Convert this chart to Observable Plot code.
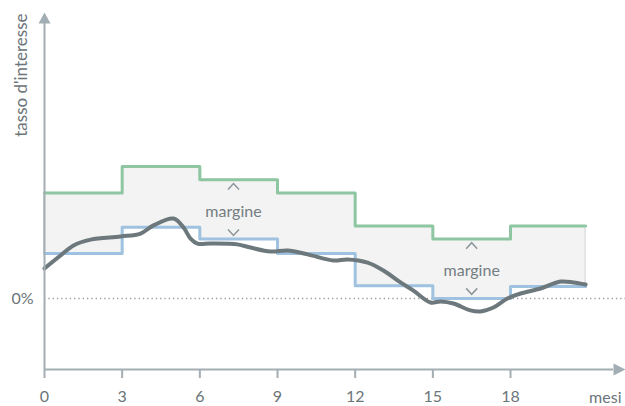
<!DOCTYPE html>
<html>
<head>
<meta charset="utf-8">
<script src="https://cdn.jsdelivr.net/npm/d3@7"></script>
<script src="https://cdn.jsdelivr.net/npm/@observablehq/plot@0.6"></script>
<style>
  html, body { margin: 0; padding: 0; background: #ffffff; }
  #chart svg { display: block; }
</style>
</head>
<body>
<div id="chart"></div>
<script>
// ---- data ----
const stepMonths = [0, 3, 6, 9, 12, 15, 18];
const stepEnd = 20.9;
const upperRate = [4, 5, 4.5, 4, 2.75, 2.25, 2.75];
const lowerRate = [1.7, 2.7, 2.25, 1.7, 0.48, 0, 0.45];

const rateMonths = [0, 0.62, 1.12, 1.78, 2.94, 3.71, 4.21, 4.98, 5.37, 5.64, 5.91, 6.41, 7.45, 7.96, 8.73, 9.39, 10.16, 11.16, 11.7, 12.48, 13.09, 13.75, 14.25, 14.91, 15.3, 15.8, 16.45, 16.84, 17.34, 17.88, 18.39, 19.16, 19.93, 20.43, 20.9];
const rateValues = [1.14, 1.63, 2.01, 2.23, 2.35, 2.46, 2.77, 3.03, 2.69, 2.27, 2.08, 2.08, 2.05, 1.93, 1.78, 1.82, 1.67, 1.44, 1.48, 1.36, 1.06, 0.61, 0.3, -0.15, -0.11, -0.19, -0.45, -0.49, -0.34, 0, 0.19, 0.38, 0.64, 0.61, 0.53];

const xTicks = [0, 3, 6, 9, 12, 15, 18];
const yTicks = [0];
const yTickLabels = ["0%"];

const marginLabelX = [7.3, 16.5];
const marginLabelY = [3.3, 1.06];
const chevronUpY = [4.24, 2.0];
const chevronDownY = [2.5, 0.27];

const xAxisTitle = "mesi";
const yAxisTitle = "tasso d'interesse";
const marginText = "margine";

// ---- build tables ----
const steps = stepMonths.map((m, i) => ({month: m, upper: upperRate[i], lower: lowerRate[i]}));
steps.push({month: stepEnd, upper: upperRate[upperRate.length - 1], lower: lowerRate[lowerRate.length - 1]});
const rate = rateMonths.map((m, i) => ({month: m, value: rateValues[i]}));
const labels = marginLabelX.map((x, i) => ({x, y: marginLabelY[i], up: chevronUpY[i], down: chevronDownY[i]}));

// ---- geometry (scale config) ----
const W = 625, H = 406;
const mL = 44, mB = 37, mT = 0, mR = 0;
const pxPerMonth = 25.89;
const pxPerUnit = 26.4;
const zeroPx = 298;
const xMax = (W - mL - mR) / pxPerMonth;
const yMin = -(H - mB - zeroPx) / pxPerUnit;
const yMax = (zeroPx - mT) / pxPerUnit;
const yArrowBase = yMax - 23 / pxPerUnit;
const xArrowBase = xMax - 12 / pxPerMonth;

const axisColor = "#a3adb4";
const textColor = "#6c757a";
const fs = 16;

const chevronUp = {draw(ctx) { ctx.moveTo(-5.5, 3); ctx.lineTo(0, -3); ctx.lineTo(5.5, 3); }};
const chevronDown = {draw(ctx) { ctx.moveTo(-5.5, -3); ctx.lineTo(0, 3); ctx.lineTo(5.5, -3); }};
const triUp = {draw(ctx) { ctx.moveTo(-6, 0); ctx.lineTo(0, -11); ctx.lineTo(6, 0); ctx.closePath(); }};
const triRight = {draw(ctx) { ctx.moveTo(0, -6); ctx.lineTo(12, 0); ctx.lineTo(0, 6); ctx.closePath(); }};

const chart = Plot.plot({
  width: W, height: H,
  marginLeft: mL, marginRight: mR, marginTop: mT, marginBottom: mB,
  style: {fontFamily: "Lato, 'Open Sans', sans-serif", fontSize: fs + "px", color: textColor, background: "#fff", overflow: "visible"},
  x: {domain: [0, xMax], axis: null},
  y: {domain: [yMin, yMax], axis: null},
  marks: [
    // band
    Plot.areaY(steps, {x: "month", y1: "lower", y2: "upper", curve: "step-after", fill: "#f3f3f3", stroke: "#cfd2d4", strokeWidth: 1}),
    // zero line
    Plot.ruleY(yTicks, {x1: 0, x2: xMax, stroke: "#9a9a9a", strokeWidth: 1.3, strokeDasharray: "1.3,3"}),
    // step lines
    Plot.line(steps, {x: "month", y: "lower", curve: "step-after", stroke: "#9ec2df", strokeWidth: 3}),
    Plot.line(steps, {x: "month", y: "upper", curve: "step-after", stroke: "#8fc6a2", strokeWidth: 3}),
    // rate curve
    Plot.line(rate, {x: "month", y: "value", curve: "catmull-rom", stroke: "#6d787c", strokeWidth: 4, strokeLinecap: "round", strokeLinejoin: "round"}),
    // margin annotations
    Plot.text(labels, {x: "x", y: "y", text: () => marginText, fill: "#737d82", fontSize: 16}),
    Plot.dot(labels, {x: "x", y: "up", symbol: chevronUp, fill: "none", stroke: "#8b959a", strokeWidth: 1.5}),
    Plot.dot(labels, {x: "x", y: "down", symbol: chevronDown, fill: "none", stroke: "#8b959a", strokeWidth: 1.5}),
    // axes
    Plot.ruleX([0], {y1: yMin, y2: yArrowBase, stroke: axisColor, strokeWidth: 2}),
    Plot.ruleY([yMin], {x1: 0, x2: xArrowBase, stroke: axisColor, strokeWidth: 2}),
    Plot.dot([0], {x: 0, y: yArrowBase, symbol: triUp, fill: axisColor, stroke: "none"}),
    Plot.dot([0], {x: xArrowBase, y: yMin, symbol: triRight, fill: axisColor, stroke: "none"}),
    Plot.axisX({ticks: xTicks, tickSize: 9, tickPadding: 12, stroke: axisColor, strokeWidth: 2, fill: textColor, fontSize: fs}),
    Plot.text(yTicks, {x: 0, y: d => d, text: (d, i) => yTickLabels[i], textAnchor: "end", dx: -11, fill: textColor, fontSize: fs}),
    Plot.text([xAxisTitle], {frameAnchor: "bottom-right", text: d => d, dx: -4, dy: 28, lineAnchor: "middle", fill: textColor, fontSize: fs}),
    Plot.text([yAxisTitle], {frameAnchor: "top-left", text: d => d, rotate: -90, textAnchor: "end", lineAnchor: "bottom", dx: -18, dy: 13, fill: textColor, fontSize: 17})
  ]
});
document.getElementById("chart").append(chart);
</script>
</body>
</html>
